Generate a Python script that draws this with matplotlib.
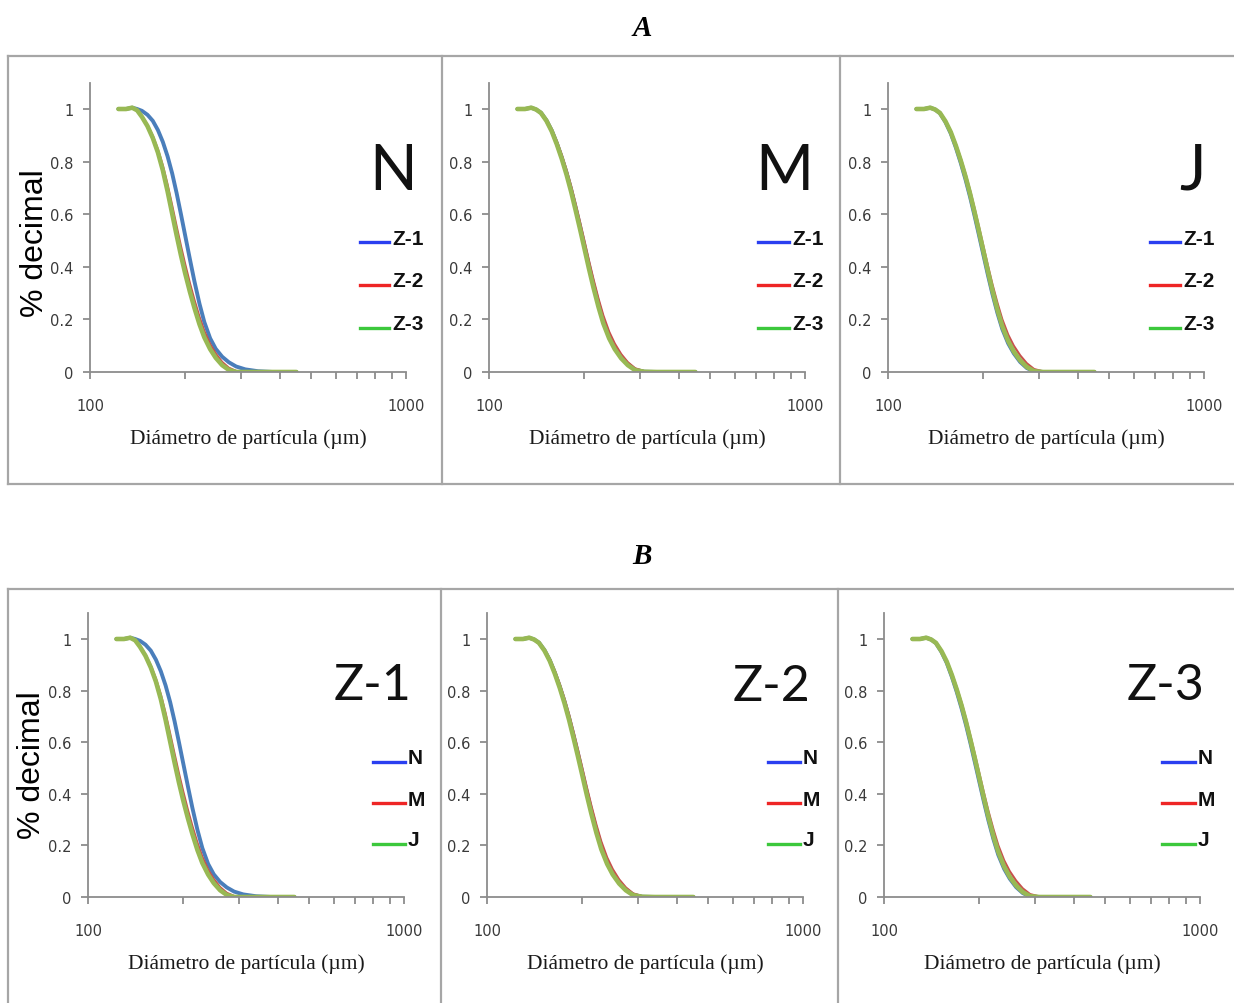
import matplotlib
matplotlib.use("Agg")
import matplotlib.pyplot as plt
from matplotlib.lines import Line2D
from matplotlib.ticker import FixedLocator, NullFormatter

W, H = 1234, 1004

# particle diameters (um) where curves were read
diam = [123, 130, 136, 141, 146, 152, 158, 164, 170, 176, 182, 188, 194, 200,
        207, 214, 222, 230, 240, 250, 262, 275, 290, 310, 340, 380, 450]

# panel N (top) -- same look as panel Z-1 (bottom)
n_blue = [1, 1, 1.005, 1.0, 0.993, 0.978, 0.955, 0.92, 0.875, 0.82, 0.755, 0.68, 0.6, 0.52,
          0.43, 0.345, 0.26, 0.19, 0.128, 0.088, 0.058, 0.037, 0.021, 0.01, 0.003, 0, 0]
n_red = [1, 1, 1.005, 0.995, 0.973, 0.94, 0.898, 0.847, 0.785, 0.712, 0.632, 0.553, 0.478, 0.41,
         0.338, 0.274, 0.21, 0.156, 0.106, 0.07, 0.038, 0.016, 0.004, 0, 0, 0, 0]
n_green = [1, 1, 1.005, 0.995, 0.97, 0.935, 0.89, 0.835, 0.767, 0.687, 0.602, 0.52, 0.444, 0.376,
           0.306, 0.244, 0.182, 0.132, 0.087, 0.054, 0.026, 0.008, 0, 0, 0, 0, 0]

# panel M
m_blue = [1, 1, 1.005, 0.998, 0.986, 0.957, 0.918, 0.869, 0.815, 0.757, 0.693, 0.625, 0.556, 0.486,
          0.407, 0.334, 0.26, 0.196, 0.138, 0.095, 0.058, 0.03, 0.009, 0.001, 0, 0, 0]
m_red = [1, 1, 1.005, 0.998, 0.987, 0.96, 0.923, 0.877, 0.825, 0.768, 0.706, 0.639, 0.571, 0.503,
         0.425, 0.353, 0.279, 0.215, 0.153, 0.108, 0.068, 0.037, 0.014, 0.003, 0, 0, 0]
m_green = [1, 1, 1.005, 0.998, 0.985, 0.955, 0.915, 0.865, 0.81, 0.75, 0.685, 0.615, 0.545, 0.475,
           0.395, 0.322, 0.248, 0.185, 0.128, 0.087, 0.052, 0.026, 0.007, 0.001, 0, 0, 0]

# panel J
j_blue = [1, 1, 1.005, 0.998, 0.984, 0.95, 0.907, 0.853, 0.794, 0.731, 0.664, 0.593, 0.521, 0.45,
          0.37, 0.297, 0.224, 0.163, 0.109, 0.071, 0.038, 0.015, 0.002, 0, 0, 0, 0]
j_red = [1, 1, 1.005, 0.998, 0.986, 0.956, 0.917, 0.867, 0.812, 0.753, 0.689, 0.621, 0.552, 0.483,
         0.405, 0.333, 0.262, 0.2, 0.142, 0.1, 0.063, 0.033, 0.011, 0.002, 0, 0, 0]
j_green = [1, 1, 1.005, 0.998, 0.985, 0.953, 0.912, 0.86, 0.803, 0.742, 0.676, 0.606, 0.535, 0.464,
           0.384, 0.31, 0.236, 0.174, 0.118, 0.078, 0.044, 0.019, 0.003, 0, 0, 0, 0]

top_names = ["N", "M", "J"]
top_series = ["Z-1", "Z-2", "Z-3"]
bottom_names = ["Z-1", "Z-2", "Z-3"]
bottom_series = ["N", "M", "J"]
panel_curves = [(n_blue, n_red, n_green), (m_blue, m_red, m_green), (j_blue, j_red, j_green)]

curve_colors = ["#4a7ebb", "#c8504d", "#98b954"]
curve_widths = [2.8, 1.6, 3.3]
legend_colors = ["#2a3ff0", "#ee2525", "#3cc83c"]

GRAY = "#8c8c8c"

fig = plt.figure(figsize=(W / 100, H / 100), dpi=100)


def fx(px):
    return px / W


def fy(py):
    return 1 - py / H


# boxes around panels
box_kw = dict(color="#a6a6a6", lw=1.6, transform=fig.transFigure)
for y0, y1, divs in [(57, 485, (442, 840)), (590, 1010, (441, 838))]:
    fig.add_artist(Line2D([fx(8), fx(1240)], [fy(y0), fy(y0)], **box_kw))
    fig.add_artist(Line2D([fx(8), fx(1240)], [fy(y1), fy(y1)], **box_kw))
    fig.add_artist(Line2D([fx(8), fx(8)], [fy(y0), fy(y1)], **box_kw))
    for d in divs:
        fig.add_artist(Line2D([fx(d), fx(d)], [fy(y0), fy(y1)], **box_kw))

fig.text(fx(642), fy(28), "A", ha="center", va="center", family="Liberation Serif",
         style="italic", weight="bold", fontsize=21)
fig.text(fx(642), fy(557), "B", ha="center", va="center", family="Liberation Serif",
         style="italic", weight="bold", fontsize=21)

# axes geometry in pixels: left edges, y of zero, px per unit
rows = [
    dict(lefts=[90, 489, 888], y0=373, unit=263, names=top_names, series=top_series,
         big=45, big_pos=[(0.959, 0.695), (0.934, 0.695), (0.962, 0.695)],
         ylab=(-0.127, 0.449),
         leg_y=[0.449, 0.301, 0.152], leg_x=[(0.854, 0.946), (0.851, 0.949), (0.829, 0.924)]),
    dict(lefts=[88, 487, 884], y0=898, unit=258, names=bottom_names, series=bottom_series,
         big=36, big_pos=[(0.899, 0.747), (0.899, 0.742), (0.892, 0.747)],
         ylab=(-0.13, 0.469),
         leg_y=[0.476, 0.331, 0.187], leg_x=[(0.902, 1.003), (0.889, 0.99), (0.88, 0.984)]),
]

for r, row in enumerate(rows):
    for c in range(3):
        left = row["lefts"][c]
        height = 1.1 * row["unit"]
        ax = fig.add_axes([fx(left), fy(row["y0"]), 316 / W, height / H])
        for k in range(3):
            ax.plot(diam, panel_curves[c][k], color=curve_colors[k], lw=curve_widths[k],
                    solid_capstyle="round", solid_joinstyle="round")
        ax.set_xscale("log")
        ax.set_xlim(100, 1000)
        ax.set_ylim(0, 1.1)
        ax.set_yticks([0, 0.2, 0.4, 0.6, 0.8, 1])
        ax.set_yticklabels(["0", "0.2", "0.4", "0.6", "0.8", "1"])
        ax.xaxis.set_major_locator(FixedLocator([100, 1000]))
        ax.set_xticklabels(["100", "1000"])
        ax.xaxis.set_minor_locator(FixedLocator([200, 300, 400, 500, 600, 700, 800, 900]))
        ax.xaxis.set_minor_formatter(NullFormatter())
        for s in ["top", "right"]:
            ax.spines[s].set_visible(False)
        for s in ["left", "bottom"]:
            ax.spines[s].set_color(GRAY)
            ax.spines[s].set_linewidth(1.3)
        ax.tick_params(axis="both", which="both", color=GRAY, width=1.3, length=5,
                       labelcolor="#3a3a3a", labelsize=10.5)
        ax.tick_params(axis="x", which="major", pad=14)
        ax.tick_params(axis="y", pad=7)
        ax.set_xlabel("Diámetro de partícula (µm)", family="Liberation Serif", fontsize=15.5,
                      color="#1a1a1a", labelpad=11)
        if c == 0:
            ax.set_ylabel("% decimal", family="Liberation Sans", fontsize=23)
            ax.yaxis.set_label_coords(*row["ylab"])

        bx, by = row["big_pos"][c]
        ax.text(bx, by, row["names"][c], transform=ax.transAxes, ha="center", va="center",
                family="Lato", fontsize=row["big"], color="#111111", clip_on=False)
        x0, x1 = row["leg_x"][c]
        for k in range(3):
            yy = row["leg_y"][k]
            ax.add_line(Line2D([x0, x1], [yy, yy], transform=ax.transAxes, color=legend_colors[k],
                               lw=2.4, clip_on=False))
            ax.text(x1 + 0.01, yy + 0.014, row["series"][k], transform=ax.transAxes, ha="left",
                    va="center", family="Liberation Sans", weight="bold", fontsize=15,
                    color="#111111", clip_on=False)

fig.savefig("out.png", dpi=100)
